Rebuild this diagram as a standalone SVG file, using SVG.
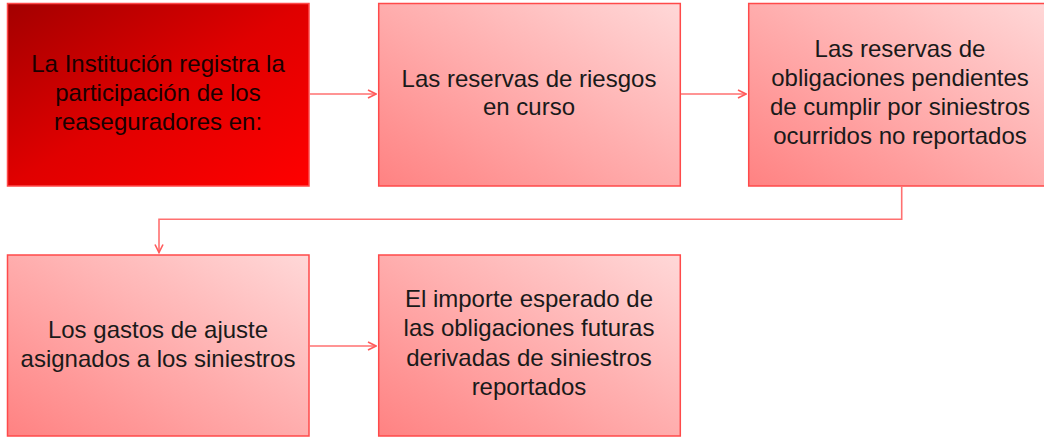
<svg xmlns="http://www.w3.org/2000/svg" width="1044" height="437" viewBox="0 0 1044 437">
<defs>
<linearGradient id="gDark" x1="0" y1="0" x2="1" y2="1">
<stop offset="0" stop-color="#a30000"/>
<stop offset="0.5" stop-color="#e00000"/>
<stop offset="1" stop-color="#ff0000"/>
</linearGradient>
<linearGradient id="gLight" x1="1" y1="0" x2="0" y2="1">
<stop offset="0" stop-color="#ffd8d8"/>
<stop offset="1" stop-color="#ff8282"/>
</linearGradient>
<marker id="arr" viewBox="0 0 10 10" refX="9" refY="5" markerWidth="10" markerHeight="10" markerUnits="userSpaceOnUse" orient="auto">
<path d="M1,1 L9,5 L1,9" fill="none" stroke="#ff5a5a" stroke-width="1.6"/>
</marker>
</defs>
<style>
.box{stroke:#ff4a4a;stroke-width:1.5}
.t{font-family:"Liberation Sans",Arial,sans-serif;font-size:24px;fill:#1a1a1a;text-anchor:middle}
.t1{fill:#1a0000}
.c{fill:none;stroke:#ff7070;stroke-width:1.6}
</style>
<rect width="1044" height="437" fill="#ffffff"/>
<g id="node1">
<rect class="box" x="7.5" y="3.5" width="301.5" height="182.5" fill="url(#gDark)"/>
<text class="t t1" x="158" y="72">La Institución registra la</text>
<text class="t t1" x="158" y="101">participación de los</text>
<text class="t t1" x="158" y="130">reaseguradores en:</text>
</g>
<g id="node2">
<rect class="box" x="378.7" y="3.5" width="301.6" height="182.5" fill="url(#gLight)"/>
<text class="t" x="529" y="86.5">Las reservas de riesgos</text>
<text class="t" x="529" y="115">en curso</text>
</g>
<g id="node3">
<rect class="box" x="748.7" y="3.5" width="301.6" height="182.5" fill="url(#gLight)"/>
<text class="t" x="900" y="57">Las reservas de</text>
<text class="t" x="900" y="86">obligaciones pendientes</text>
<text class="t" x="900" y="115">de cumplir por siniestros</text>
<text class="t" x="900" y="143.5">ocurridos no reportados</text>
</g>
<g id="node4">
<rect class="box" x="7.5" y="255" width="301.5" height="181" fill="url(#gLight)"/>
<text class="t" x="158" y="337.5">Los gastos de ajuste</text>
<text class="t" x="158" y="366.5">asignados a los siniestros</text>
</g>
<g id="node5">
<rect class="box" x="378.7" y="255" width="301.6" height="181" fill="url(#gLight)"/>
<text class="t" x="529" y="306.5">El importe esperado de</text>
<text class="t" x="529" y="336">las obligaciones futuras</text>
<text class="t" x="529" y="365.5">derivadas de siniestros</text>
<text class="t" x="529" y="395">reportados</text>
</g>
<g id="connectors">
<path class="c" d="M309.5,94 L376,94" marker-end="url(#arr)"/>
<path class="c" d="M681,94 L746,94" marker-end="url(#arr)"/>
<path class="c" d="M901.7,186.5 L901.7,219.3 L159,219.3 L159,252.5" marker-end="url(#arr)"/>
<path class="c" d="M309.5,346 L376,346" marker-end="url(#arr)"/>
</g>
</svg>
